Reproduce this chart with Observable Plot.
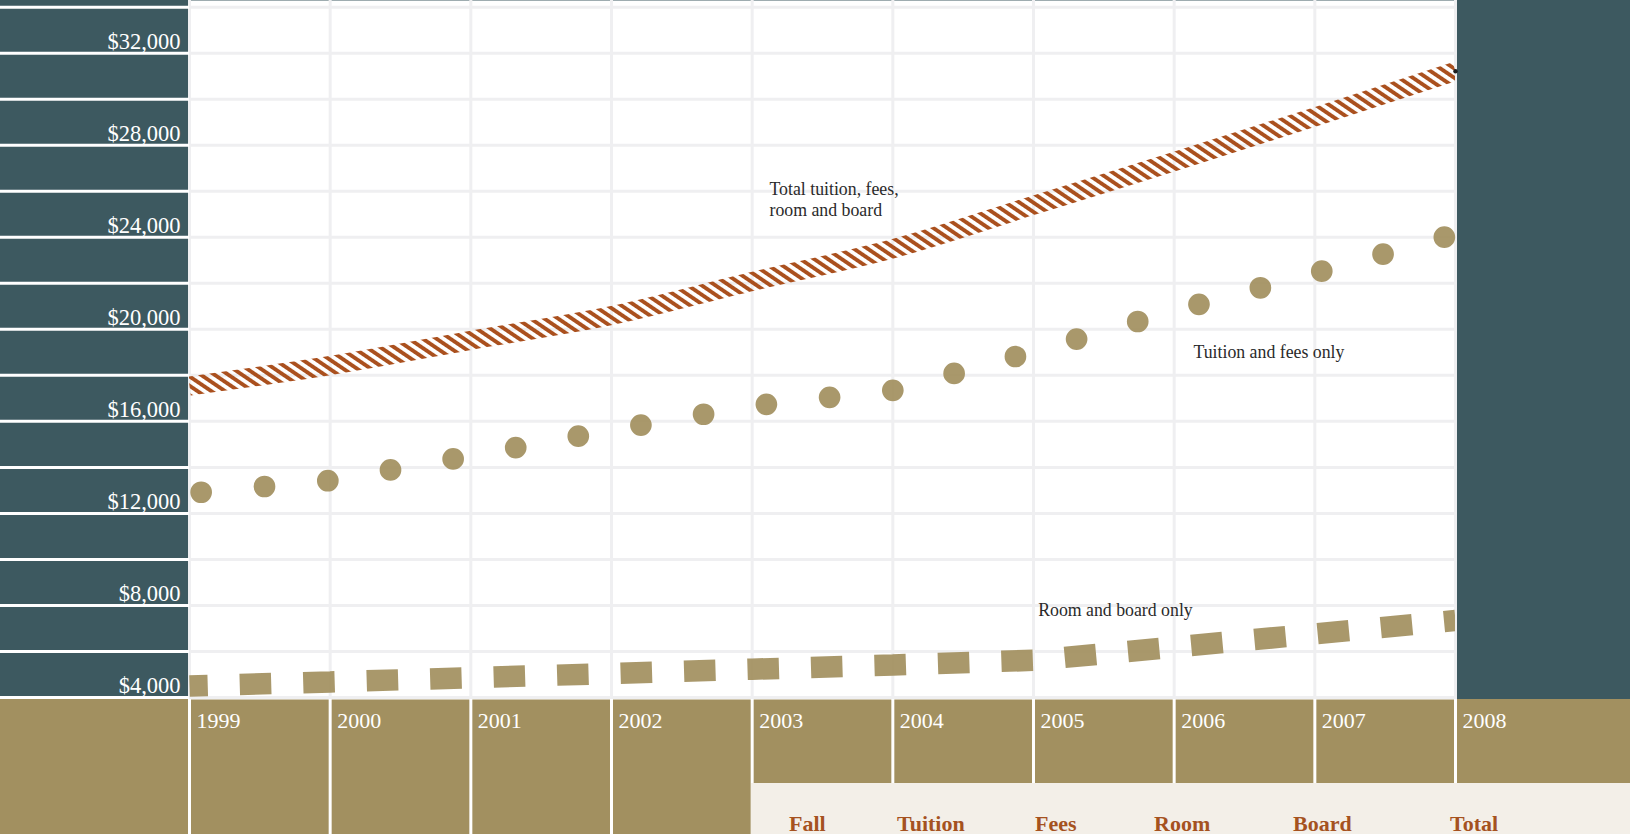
<!DOCTYPE html>
<html>
<head>
<meta charset="utf-8">
<script src="https://cdn.jsdelivr.net/npm/d3@7"></script>
<script src="https://cdn.jsdelivr.net/npm/@observablehq/plot@0.6"></script>
<style>
  html, body { margin: 0; padding: 0; background: #3d5960; }
  #chart { position: relative; width: 1630px; height: 834px; overflow: hidden; background: #3d5960;
           font-family: "Liberation Serif", "DejaVu Serif", serif; }
  #band { position: absolute; left: 0; top: 699px; width: 1630px; height: 135px; background: #a29060; }
  #plot { position: absolute; left: 0; top: 0; }
  #table { position: absolute; left: 751px; top: 783px; right: 0; bottom: 0; background: #f3efe8; }
  #table span { position: absolute; top: 30px; font: bold 22px/22px "Liberation Serif", serif; color: #a5521f; white-space: nowrap; }
</style>
</head>
<body>
<div id="chart">
  <div id="band"></div>
  <div id="plot"></div>
  <div id="table"></div>
</div>
<script>
// ---- data ----
const years = [1999, 2000, 2001, 2002, 2003, 2004, 2005, 2006, 2007, 2008];
const totalCost   = [17537, 18428, 19520, 20600, 22080, 23500, 25390, 27290, 29230, 31216];
const tuitionFees = [12874, 13430, 14504, 15620, 16672, 17350, 19036, 20796, 22443, 24138];
const roomBoard   = [4500, 4678, 4860, 5043, 5230, 5412, 5617, 6190, 6764, 7346];
const yLabelTicks = [4000, 8000, 12000, 16000, 20000, 24000, 28000, 32000];
const yGridTicks  = [4000, 6000, 8000, 10000, 12000, 14000, 16000, 18000, 20000, 22000, 24000, 26000, 28000, 30000, 32000, 34000];
const annoText = ["Total tuition, fees,\nroom and board", "Tuition and fees only", "Room and board only"];
const annoX = [2003.123, 2006.137, 2005.033];
const annoY = [26500, 19388, 8189];
const tableHeaders = ["Fall", "Tuition", "Fees", "Room", "Board", "Total"];

// ---- layout (not data) ----
const headerLeft = [38, 146, 284, 403, 542, 699];

const rows = years.map((year, i) => ({year, total: totalCost[i], tuition: tuitionFees[i], room: roomBoard[i]}));
const annotations = annoText.map((text, i) => ({text, x: annoX[i], y: annoY[i]}));
const fmt = d => "$" + d3.format(",")(d);
const GOLD = "#a29060";
const GRID = "#efeff1";

const chart = Plot.plot({
  width: 1630,
  height: 834,
  marginLeft: 189,
  marginRight: 175,
  marginTop: 0,
  marginBottom: 135,
  style: {background: "transparent", fontFamily: "'Liberation Serif', serif"},
  x: {domain: [1999, 2008], label: null},
  y: {domain: [3913, 34290], label: null},
  marks: [
    Plot.frame({fill: "white", stroke: "none"}),
    Plot.gridY(yGridTicks, {stroke: GRID, strokeOpacity: 1, strokeWidth: 3}),
    Plot.gridX(years, {stroke: GRID, strokeOpacity: 1, strokeWidth: 3}),
    Plot.axisY(yGridTicks, {tickSize: 189, stroke: "white", strokeWidth: 3, fill: "none", label: null}),
    Plot.axisY(yLabelTicks, {tickSize: 0, tickPadding: 9, tickFormat: fmt, fill: "white", fontSize: 22.5, dy: -11.5, label: null}),
    Plot.axisX(years, {tickSize: 135, stroke: "white", strokeWidth: 3, fill: "none", label: null}),
    Plot.axisX(years, {tickSize: 0, tickPadding: 0, tickFormat: d => String(d), fill: "white", fontSize: 22,
                       textAnchor: "start", dx: 7, dy: 12.5, label: null}),
    Plot.line(rows, {x: "year", y: "room", stroke: GOLD, strokeWidth: 21.5, strokeLinecap: "butt", strokeLinejoin: "miter",
                     strokeDasharray: "31.5 32", strokeDashoffset: 13.25, strokeOpacity: 0.93, clip: "frame"}),
    Plot.line(rows, {x: "year", y: "tuition", stroke: GOLD, strokeWidth: 21.7, strokeLinecap: "round",
                     strokeDasharray: "0 63.6", strokeDashoffset: 51.9, strokeOpacity: 0.93}),
    Plot.line(rows, {x: "year", y: "total", stroke: "url(#hatch)", strokeWidth: 19, strokeLinecap: "butt",
                     clip: "frame", curve: "monotone-x"}),
    Plot.dot(rows.slice(-1), {x: "year", y: "total", r: 2.2, fill: "#1e1e1e"}),
    Plot.text(annotations, {x: "x", y: "y", text: "text", textAnchor: "start", lineAnchor: "top",
                            fontSize: 17.8, lineHeight: 1.18, fill: "#2a2a2a"})
  ]
});

// hatch pattern for the total line
const ns = "http://www.w3.org/2000/svg";
const defs = document.createElementNS(ns, "defs");
const pat = document.createElementNS(ns, "pattern");
pat.setAttribute("id", "hatch");
pat.setAttribute("patternUnits", "userSpaceOnUse");
pat.setAttribute("width", "7.7");
pat.setAttribute("height", "10");
pat.setAttribute("patternTransform", "rotate(-56)");
const stripe = document.createElementNS(ns, "rect");
stripe.setAttribute("x", "0");
stripe.setAttribute("y", "0");
stripe.setAttribute("width", "3.9");
stripe.setAttribute("height", "10");
stripe.setAttribute("fill", "#aa501e");
pat.appendChild(stripe);
defs.appendChild(pat);
chart.insertBefore(defs, chart.firstChild);

document.getElementById("plot").appendChild(chart);

// table header row below the chart
const table = document.getElementById("table");
tableHeaders.forEach((h, i) => {
  const s = document.createElement("span");
  s.textContent = h;
  s.style.left = headerLeft[i] + "px";
  table.appendChild(s);
});
</script>
</body>
</html>
